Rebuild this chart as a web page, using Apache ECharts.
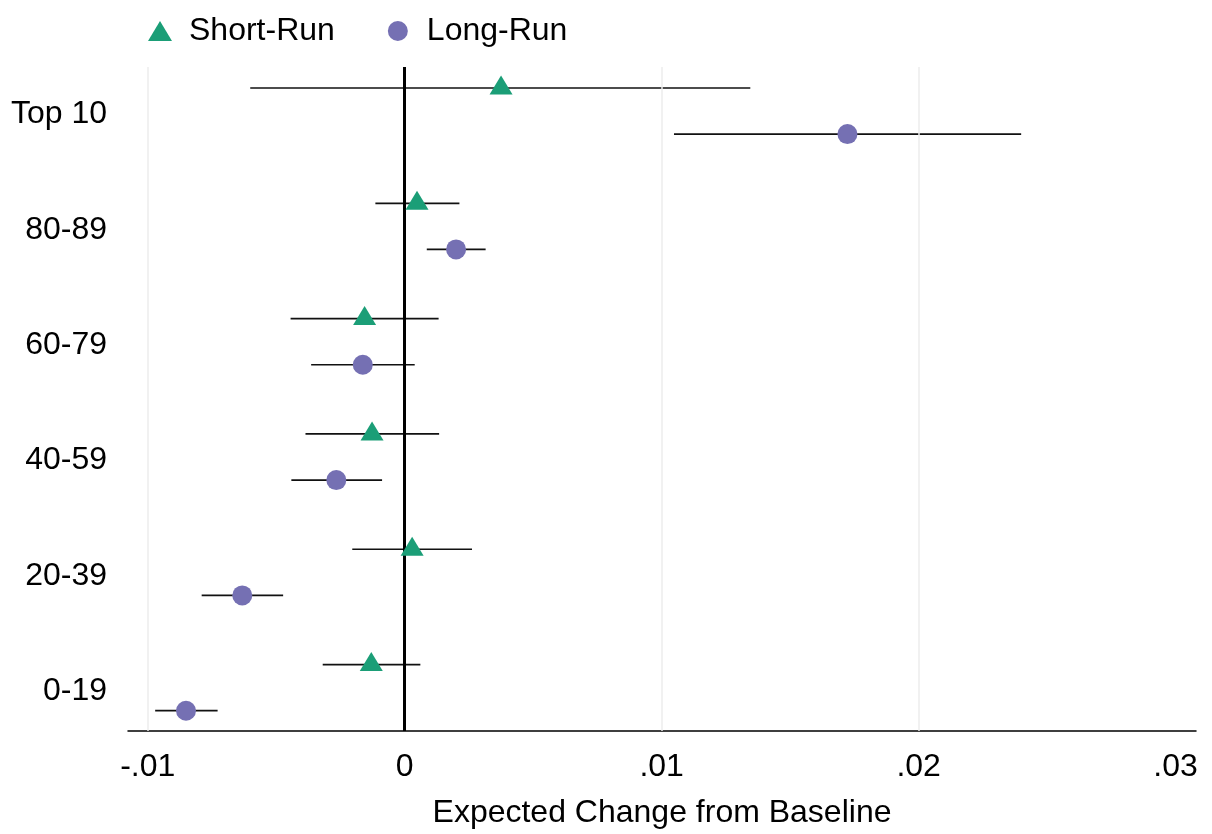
<!DOCTYPE html>
<html>
<head>
<meta charset="utf-8">
<script src="https://cdn.jsdelivr.net/npm/echarts@6/dist/echarts.min.js"></script>
<style>html,body{margin:0;padding:0;background:#fff}#c{width:1212px;height:834px}</style>
</head>
<body>
<div id="c"></div>
<script>
// Categories, bottom to top
var categories = ['0-19', '20-39', '40-59', '60-79', '80-89', 'Top 10'];
// Short-run estimates and confidence bounds
var shortEst = [-0.0013, 0.00029, -0.00127, -0.00156, 0.00048, 0.00375];
var shortLo  = [-0.00319, -0.00204, -0.00386, -0.00444, -0.00114, -0.00601];
var shortHi  = [0.00061, 0.00262, 0.00134, 0.00132, 0.00213, 0.01345];
// Long-run estimates and confidence bounds
var longEst = [-0.00851, -0.00632, -0.00266, -0.00163, 0.002, 0.01723];
var longLo  = [-0.00971, -0.0079, -0.00441, -0.00364, 0.00086, 0.01048];
var longHi  = [-0.00728, -0.00473, -0.00088, 0.00039, 0.00315, 0.02399];
// Axis ticks
var xTickValues = [-0.01, 0, 0.01, 0.02, 0.03];
var xTickLabels = ['-.01', '0', '.01', '.02', '.03'];
var xGridValues = [-0.01, 0.01, 0.02];

var SHORT_OFF = 0.2, LONG_OFF = -0.2;
var FONT = "'Liberation Sans', Helvetica, Arial, sans-serif";
var FS = 32;

function pts(est, off) { return est.map(function (v, i) { return [v, i + off]; }); }
function bars(lo, hi, off) { return lo.map(function (v, i) { return [v, hi[i], i + off]; }); }

function renderBar(params, api) {
  var a = api.coord([api.value(0), api.value(2)]);
  var b = api.coord([api.value(1), api.value(2)]);
  return { type: 'line', shape: { x1: a[0], y1: a[1], x2: b[0], y2: b[1] },
           style: { stroke: '#111', lineWidth: 1.7 } };
}

var chart = echarts.init(document.getElementById('c'), null, { renderer: 'canvas' });
chart.setOption({
  animation: false,
  backgroundColor: '#fff',
  textStyle: { fontFamily: FONT },
  grid: { left: 128, right: 16, top: 67, bottom: 103, containLabel: false, outerBoundsMode: 'none' },
  legend: {
    left: 143, top: 10,
    itemWidth: 24, itemHeight: 20, itemGap: 53,
    textStyle: { fontSize: FS, color: '#000', fontFamily: FONT, padding: [0, 0, 0, 12] },
    data: [{ name: 'Short-Run', icon: 'triangle' }, { name: 'Long-Run', icon: 'circle' }]
  },
  xAxis: {
    type: 'value', min: -0.010767, max: 0.030794,
    splitLine: { show: false },
    axisTick: { show: false },
    axisLine: { show: true, onZero: false, lineStyle: { color: '#000', width: 1.5 } },
    axisLabel: {
      customValues: xTickValues, margin: 20, fontSize: FS, color: '#000', fontFamily: FONT,
      formatter: function (v) { var i = xTickValues.indexOf(v); return i >= 0 ? xTickLabels[i] : ''; }
    },
    name: 'Expected Change from Baseline', nameLocation: 'middle', nameGap: 66,
    nameTextStyle: { fontSize: FS, color: '#000', fontFamily: FONT }
  },
  yAxis: {
    type: 'value', min: -0.376, max: 5.382,
    splitLine: { show: false },
    axisTick: { show: false },
    axisLine: { show: false, onZero: false },
    axisLabel: {
      customValues: [0, 1, 2, 3, 4, 5], margin: 21, color: '#000', fontFamily: FONT,
      formatter: function (v) { return '{c|' + categories[Math.round(v)] + '}'; },
      rich: { c: { fontSize: FS, color: '#000', fontFamily: FONT, padding: [7, 0, 0, 0] } }
    }
  },
  series: [
    {
      type: 'custom', name: 'grid', silent: true, z: 1,
      data: [], renderItem: function () { return null; },
      markLine: {
        silent: true, symbol: 'none', label: { show: false },
        lineStyle: { color: '#ececec', width: 1.5, type: 'solid' },
        data: xGridValues.map(function (v) { return { xAxis: v }; })
      }
    },
    { type: 'custom', name: 'sbars', silent: true, z: 3, renderItem: renderBar,
      encode: { x: [0, 1], y: 2 }, data: bars(shortLo, shortHi, SHORT_OFF) },
    { type: 'custom', name: 'lbars', silent: true, z: 3, renderItem: renderBar,
      encode: { x: [0, 1], y: 2 }, data: bars(longLo, longHi, LONG_OFF) },
    { type: 'scatter', name: 'Short-Run', z: 5, symbol: 'triangle', symbolSize: [23, 19],
      symbolOffset: [0, -3], itemStyle: { color: '#1b9e77', opacity: 1 },
      data: pts(shortEst, SHORT_OFF) },
    { type: 'scatter', name: 'Long-Run', z: 5, symbol: 'circle', symbolSize: 20,
      itemStyle: { color: '#7570b3', opacity: 1 },
      data: pts(longEst, LONG_OFF) },
    {
      type: 'custom', name: 'zero', silent: true, z: 6,
      data: [], renderItem: function () { return null; },
      markLine: {
        silent: true, symbol: 'none', label: { show: false },
        lineStyle: { color: '#000', width: 3, type: 'solid' },
        data: [{ xAxis: 0 }]
      }
    }
  ]
});
</script>
</body>
</html>
